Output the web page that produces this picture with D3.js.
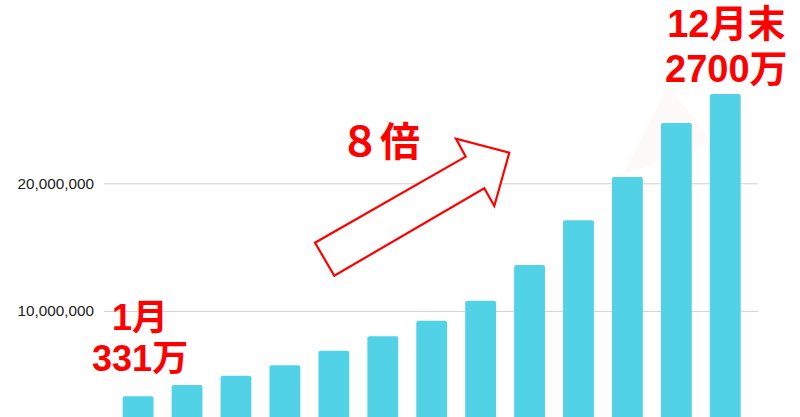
<!DOCTYPE html>
<html>
<head>
<meta charset="utf-8">
<script src="https://cdn.jsdelivr.net/npm/d3@7"></script>
<style>
  body { margin: 0; background: #fff; }
  svg { display: block; }
</style>
</head>
<body>
<div id="chart"></div>
<script>
// DATA
var months = ["1", "2", "3", "4", "5", "6", "7", "8", "9", "10", "11", "12", "12末"];
var users = [3310000, 4190000, 4920000, 5740000, 6880000, 8010000, 9230000,
  10800000, 13600000, 17100000, 20490000, 24730000, 27000000];
var yTicks = [10000000, 20000000];

var svgWidth = 800;
var svgHeight = 417;

var svg = d3.select("#chart")
  .append("svg")
  .attr("width", svgWidth)
  .attr("height", svgHeight);

// SCALES - zero line sits below the bottom edge of the picture
var xScale = d3.scaleBand()
  .domain(months)
  .range([122.7, 740.7])
  .paddingInner(0.37)
  .paddingOuter(0);

var yScale = d3.scaleLinear()
  .domain([0, 30000000])
  .range([438.5, 55.7]);

// GRIDLINES + LEFT AXIS
var yAxis = d3.axisLeft(yScale)
  .tickValues(yTicks)
  .tickSize(-(758 - 104))
  .tickPadding(10)
  .tickFormat(d3.format(","));

var axisGroup = svg.append("g")
  .attr("transform", "translate(104, 0)")
  .call(yAxis);

axisGroup.select(".domain").remove();
axisGroup.selectAll(".tick line")
  .attr("stroke", "#cfcfcf")
  .attr("stroke-width", 1);
axisGroup.selectAll(".tick text")
  .attr("fill", "#222")
  .attr("font-family", "'Liberation Sans', Arial, sans-serif")
  .attr("font-size", "15.3px");

// faint callout tail behind the last bars
svg.append("polygon")
  .attr("points", "668,85 622,176 712,142")
  .attr("fill", "#fffafa");

// BARS
svg.append("g")
  .selectAll("rect")
  .data(users)
  .enter()
  .append("rect")
  .attr("x", (d, i) => xScale(months[i]))
  .attr("y", d => yScale(d))
  .attr("width", xScale.bandwidth())
  .attr("height", d => yScale(0) - yScale(d))
  .attr("rx", 2)
  .attr("fill", "#52d2e7");

// ARROW (outline, white fill)
svg.append("polygon")
  .attr("points", "315,242.7 334.3,275.7 484.3,188.3 494.3,206 509.3,152.7 456,138.7 465.7,156.7")
  .attr("fill", "#fff")
  .attr("stroke", "#ff0000")
  .attr("stroke-width", 2.2)
  .attr("stroke-linejoin", "miter");

// RED LABELS
var redFont = "'Liberation Sans', Arial, 'Noto Sans CJK JP', sans-serif";

function redLabel(x, y, size, txt, anchor) {
  svg.append("text")
    .attr("x", x)
    .attr("y", y)
    .attr("text-anchor", anchor || "middle")
    .attr("font-family", redFont)
    .attr("font-weight", "bold")
    .attr("font-size", size + "px")
    .attr("fill", "#ff0000")
    .text(txt);
}

var firstX = xScale(months[0]) + xScale.bandwidth() / 2;
var lastX = xScale(months[months.length - 1]) + xScale.bandwidth() / 2;

redLabel(firstX + 2, 330, 36, "1月");
redLabel(firstX + 2, 370.5, 36, (users[0] / 10000) + "万");
redLabel(lastX + 1, 37, 38, "12月末");
redLabel(lastX + 1, 82, 38, (users[users.length - 1] / 10000) + "万");
redLabel(380, 156, 40, "８倍");
</script>
</body>
</html>
